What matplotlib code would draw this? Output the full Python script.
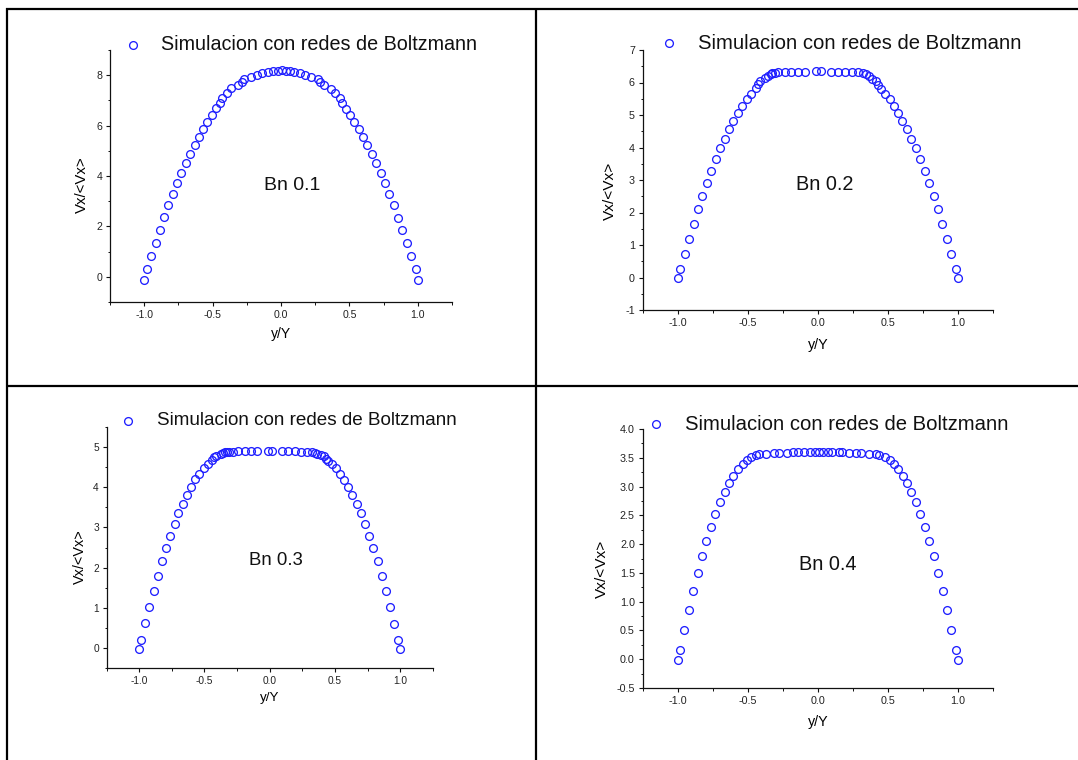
import matplotlib
matplotlib.use("Agg")
import matplotlib.pyplot as plt
from matplotlib.lines import Line2D
from matplotlib.ticker import MultipleLocator, FormatStrFormatter

plt.rcParams["font.family"] = ["Liberation Sans", "DejaVu Sans"]
plt.rcParams["axes.unicode_minus"] = False

# ---- velocity profiles, lattice Boltzmann simulation ----
y1 = [-1.0, -0.982, -0.952, -0.917, -0.887, -0.854, -0.824, -0.791, -0.761, -0.728,
      -0.695, -0.667, -0.632, -0.602, -0.569, -0.539, -0.506, -0.476, -0.443, -0.428,
      -0.395, -0.365, -0.315, -0.285, -0.267, -0.222, -0.176, -0.139, -0.096, -0.055,
      -0.025, 0.005, 0.033, 0.065, 0.098, 0.141, 0.176, 0.222, 0.272, 0.287,
      0.317, 0.365, 0.395, 0.428, 0.443, 0.474, 0.506, 0.537, 0.569, 0.602,
      0.632, 0.665, 0.695, 0.728, 0.761, 0.791, 0.824, 0.854, 0.887, 0.919,
      0.952, 0.985, 1.0]
v1 = [-0.13, 0.29, 0.82, 1.35, 1.87, 2.36, 2.83, 3.28, 3.71, 4.12,
      4.52, 4.89, 5.23, 5.55, 5.85, 6.15, 6.42, 6.68, 6.90, 7.11,
      7.30, 7.48, 7.62, 7.75, 7.85, 7.93, 8.00, 8.07, 8.11, 8.15,
      8.17, 8.20, 8.17, 8.15, 8.12, 8.07, 8.00, 7.92, 7.84, 7.75,
      7.63, 7.46, 7.28, 7.10, 6.89, 6.66, 6.41, 6.15, 5.85, 5.55,
      5.23, 4.89, 4.50, 4.12, 3.71, 3.28, 2.83, 2.34, 1.87, 1.34,
      0.82, 0.29, -0.13]

y2 = [-1.0, -0.980, -0.948, -0.919, -0.884, -0.855, -0.823, -0.793, -0.759, -0.729,
      -0.695, -0.665, -0.633, -0.601, -0.569, -0.537, -0.505, -0.473, -0.441, -0.426,
      -0.409, -0.377, -0.355, -0.337, -0.323, -0.305, -0.281, -0.236, -0.190, -0.140,
      -0.094, -0.015, 0.020, 0.096, 0.145, 0.192, 0.241, 0.288, 0.323, 0.347,
      0.365, 0.384, 0.419, 0.433, 0.448, 0.480, 0.512, 0.544, 0.571, 0.603,
      0.638, 0.667, 0.700, 0.732, 0.764, 0.796, 0.828, 0.857, 0.889, 0.921,
      0.953, 0.985, 1.0]
v2 = [-0.02, 0.25, 0.72, 1.20, 1.66, 2.10, 2.52, 2.92, 3.29, 3.64,
      3.97, 4.27, 4.56, 4.83, 5.07, 5.28, 5.48, 5.66, 5.82, 5.95,
      6.05, 6.13, 6.21, 6.25, 6.28, 6.30, 6.32, 6.32, 6.33, 6.33,
      6.33, 6.34, 6.34, 6.33, 6.33, 6.33, 6.32, 6.31, 6.29, 6.25,
      6.19, 6.12, 6.04, 5.93, 5.79, 5.65, 5.48, 5.28, 5.07, 4.82,
      4.56, 4.27, 3.97, 3.64, 3.29, 2.92, 2.52, 2.10, 1.66, 1.20,
      0.72, 0.25, -0.02]

y3 = [-1.0, -0.987, -0.953, -0.921, -0.887, -0.858, -0.826, -0.792, -0.763, -0.728,
      -0.699, -0.665, -0.633, -0.602, -0.570, -0.538, -0.507, -0.475, -0.443, -0.425,
      -0.409, -0.377, -0.356, -0.340, -0.325, -0.309, -0.282, -0.240, -0.190, -0.142,
      -0.095, -0.016, 0.021, 0.095, 0.142, 0.193, 0.240, 0.285, 0.322, 0.343,
      0.364, 0.391, 0.414, 0.430, 0.446, 0.478, 0.507, 0.538, 0.570, 0.602,
      0.633, 0.668, 0.699, 0.731, 0.763, 0.794, 0.826, 0.858, 0.889, 0.921,
      0.953, 0.984, 1.0]
v3 = [-0.02, 0.20, 0.61, 1.02, 1.42, 1.80, 2.16, 2.49, 2.79, 3.08,
      3.35, 3.59, 3.81, 4.01, 4.20, 4.34, 4.48, 4.58, 4.68, 4.76,
      4.79, 4.83, 4.85, 4.87, 4.88, 4.88, 4.89, 4.90, 4.90, 4.90,
      4.90, 4.91, 4.91, 4.90, 4.90, 4.90, 4.89, 4.88, 4.88, 4.86,
      4.83, 4.80, 4.77, 4.71, 4.66, 4.57, 4.47, 4.33, 4.19, 4.00,
      3.81, 3.59, 3.35, 3.08, 2.79, 2.48, 2.16, 1.79, 1.42, 1.01,
      0.60, 0.20, -0.02]

y4 = [-1.0, -0.983, -0.951, -0.921, -0.887, -0.857, -0.825, -0.795, -0.761, -0.731,
      -0.697, -0.665, -0.635, -0.603, -0.568, -0.536, -0.504, -0.475, -0.440, -0.418,
      -0.367, -0.312, -0.273, -0.222, -0.174, -0.142, -0.095, -0.055, -0.023, 0.011,
      0.036, 0.070, 0.102, 0.154, 0.174, 0.223, 0.272, 0.312, 0.369, 0.416,
      0.440, 0.477, 0.512, 0.544, 0.573, 0.606, 0.635, 0.667, 0.699, 0.731,
      0.764, 0.796, 0.828, 0.857, 0.891, 0.921, 0.953, 0.985, 1.0]
v4 = [-0.01, 0.16, 0.50, 0.85, 1.18, 1.49, 1.79, 2.06, 2.30, 2.53,
      2.73, 2.91, 3.06, 3.19, 3.30, 3.39, 3.46, 3.51, 3.55, 3.57,
      3.57, 3.58, 3.59, 3.59, 3.60, 3.60, 3.60, 3.60, 3.60, 3.60,
      3.60, 3.60, 3.60, 3.60, 3.60, 3.59, 3.59, 3.58, 3.57, 3.57,
      3.55, 3.51, 3.46, 3.39, 3.30, 3.19, 3.06, 2.91, 2.73, 2.53,
      2.30, 2.06, 1.79, 1.49, 1.18, 0.85, 0.50, 0.16, -0.01]

series_y = [y1, y2, y3, y4]
series_v = [v1, v2, v3, v4]
bingham = ["Bn 0.1", "Bn 0.2", "Bn 0.3", "Bn 0.4"]
legend_label = "Simulacion con redes de Boltzmann"
x_label = "y/Y"
y_label = "Vx/<Vx>"

W, H = 1078, 760
fig = plt.figure(figsize=(W / 100, H / 100), dpi=100)
fig.patch.set_facecolor("white")


def fx(px):
    return px / W


def fy(py):
    return 1 - py / H


# per-panel layout in pixels: axes box (left, right, top, bottom),
# y range / tick steps, legend and annotation placement, text scale
panels = [
    dict(box=(110, 452, 50, 302), ylim=(-1, 9), ymaj=2, ymin=1, yfmt="%d",
         leg=(132.6, 45, 160.8), note=(292, 190), xl=(281, 334), yl=(82, 185),
         k=1.0),
    dict(box=(642.5, 993, 50, 310), ylim=(-1, 7), ymaj=1, ymin=0.5, yfmt="%d",
         leg=(668.7, 43.3, 698.5), note=(825, 190), xl=(818, 345), yl=(610, 191),
         k=1.025),
    dict(box=(106.5, 433, 427, 668), ylim=(-0.5, 5.5), ymaj=1, ymin=0.5, yfmt="%d",
         leg=(128.4, 420.7, 156.7), note=(275.5, 565), xl=(270, 698), yl=(80, 557),
         k=0.96),
    dict(box=(642.5, 993, 429, 688), ylim=(-0.5, 4.0), ymaj=0.5, ymin=0.25, yfmt="%.1f",
         leg=(655.6, 424.3, 684.6), note=(828, 570), xl=(818, 722), yl=(602, 569),
         k=1.025),
]

marker_style = dict(linestyle="none", marker="o", markersize=5.6,
                    markerfacecolor="none", markeredgecolor="#1f1fff",
                    markeredgewidth=0.95)
tick_color = "#222222"

for yy, vv, note, p in zip(series_y, series_v, bingham, panels):
    l, r, t, b = p["box"]
    k = p["k"]
    ax = fig.add_axes([fx(l), fy(b), fx(r) - fx(l), fy(t) - fy(b)])
    ax.plot(yy, vv, **marker_style)
    ax.set_xlim(-1.25, 1.25)
    ax.set_ylim(*p["ylim"])
    for s in ("top", "right"):
        ax.spines[s].set_visible(False)
    for s in ("left", "bottom"):
        ax.spines[s].set_linewidth(0.9)
        ax.spines[s].set_color("#111111")
    ax.xaxis.set_major_locator(MultipleLocator(0.5))
    ax.xaxis.set_minor_locator(MultipleLocator(0.25))
    ax.xaxis.set_major_formatter(FormatStrFormatter("%.1f"))
    ax.yaxis.set_major_locator(MultipleLocator(p["ymaj"]))
    ax.yaxis.set_minor_locator(MultipleLocator(p["ymin"]))
    ax.yaxis.set_major_formatter(FormatStrFormatter(p["yfmt"]))
    ax.tick_params(which="major", direction="out", length=3, width=0.8,
                   labelsize=7.6 * k, pad=2.5, colors="#111111",
                   labelcolor=tick_color)
    ax.tick_params(which="minor", direction="out", length=1.8, width=0.7,
                   colors="#111111")
    ax.patch.set_alpha(0)

    ax.set_xlabel(x_label, fontsize=10 * k, va="center", ha="center")
    ax.set_ylabel(y_label, fontsize=10.8 * k, va="center", ha="center", rotation=90)
    ax.xaxis.set_label_coords(fx(p["xl"][0]), fy(p["xl"][1]), transform=fig.transFigure)
    ax.yaxis.set_label_coords(fx(p["yl"][0]), fy(p["yl"][1]), transform=fig.transFigure)

    # legend entry: open marker followed by the series name
    mx, my, tx = p["leg"]
    fig.add_artist(Line2D([fx(mx)], [fy(my)], transform=fig.transFigure,
                          **marker_style))
    fig.text(fx(tx), fy(my), legend_label, fontsize=14.2 * k, ha="left",
             va="center", color="#111111")

    fig.text(fx(p["note"][0]), fy(p["note"][1]), note, fontsize=14 * k,
             ha="center", va="baseline", color="#111111")

# table-style frame separating the four panels
frame_lines = [
    ((6, 1078), (9, 9)),
    ((7, 7), (8, 760)),
    ((535.7, 535.7), (9, 760)),
    ((7, 1078), (386.3, 386.3)),
]
for xs, ys in frame_lines:
    fig.add_artist(Line2D([fx(v) for v in xs], [fy(v) for v in ys],
                          transform=fig.transFigure, color="black",
                          linewidth=1.6, solid_capstyle="butt"))

fig.savefig("out.png", dpi=100, facecolor="white")
